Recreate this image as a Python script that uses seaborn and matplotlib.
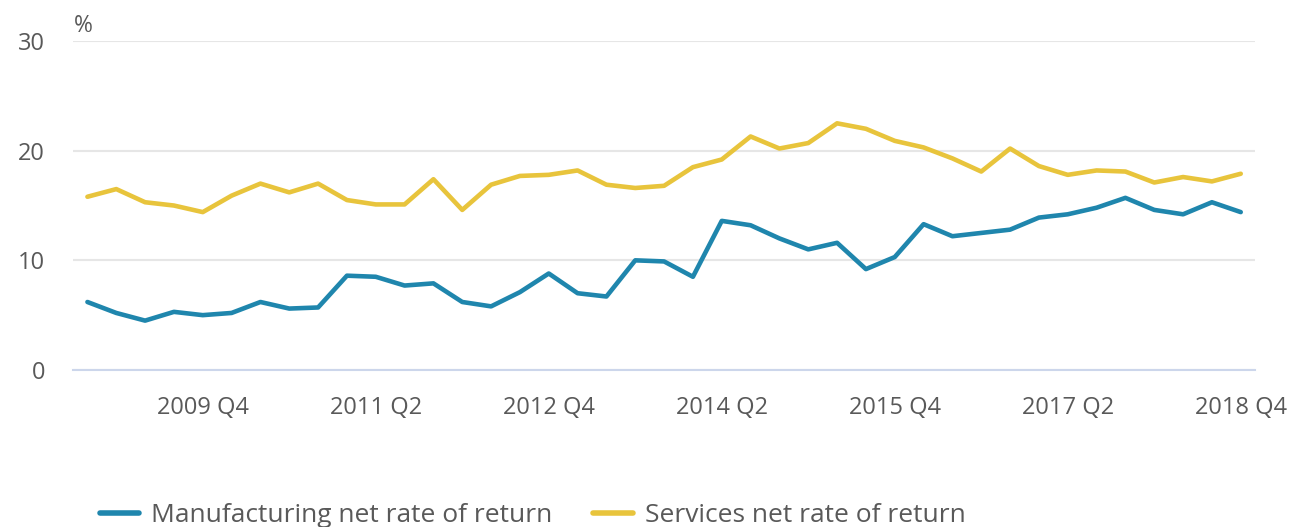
import numpy as np
import pandas as pd
import matplotlib
matplotlib.use("Agg")
import matplotlib.pyplot as plt
import seaborn as sns

# quarterly data, 2008 Q4 .. 2018 Q4
quarters = [f"{y} Q{q}" for y in range(2008, 2019) for q in range(1, 5)][3:]
manufacturing = [6.2, 5.2, 4.5, 5.3, 5.0, 5.2, 6.2, 5.6, 5.7, 8.6,
                 8.5, 7.7, 7.9, 6.2, 5.8, 7.1, 8.8, 7.0, 6.7, 10.0,
                 9.9, 8.5, 13.6, 13.2, 12.0, 11.0, 11.6, 9.2, 10.3, 13.3,
                 12.2, 12.5, 12.8, 13.9, 14.2, 14.8, 15.7, 14.6, 14.2, 15.3,
                 14.4]
services = [15.8, 16.5, 15.3, 15.0, 14.4, 15.9, 17.0, 16.2, 17.0, 15.5,
            15.1, 15.1, 17.4, 14.6, 16.9, 17.7, 17.8, 18.2, 16.9, 16.6,
            16.8, 18.5, 19.2, 21.3, 20.2, 20.7, 22.5, 22.0, 20.9, 20.3,
            19.3, 18.1, 20.2, 18.6, 17.8, 18.2, 18.1, 17.1, 17.6, 17.2,
            17.9]
tick_labels = ["2009 Q4", "2011 Q2", "2012 Q4", "2014 Q2", "2015 Q4", "2017 Q2", "2018 Q4"]

series_names = ["Manufacturing net rate of return", "Services net rate of return"]
colors = ["#1f86ad", "#e8c43c"]

df = pd.DataFrame({
    "idx": list(range(len(quarters))) * 2,
    "quarter": quarters * 2,
    "value": manufacturing + services,
    "series": [series_names[0]] * len(quarters) + [series_names[1]] * len(quarters),
})

sns.set_style("white")
plt.rcParams["font.family"] = ["Open Sans", "DejaVu Sans"]
text_color = "#595959"

fig = plt.figure(figsize=(12.9, 5.27), dpi=100)
ax = fig.add_axes([0.0566, 0.298, 0.9164, 0.624])

sns.lineplot(data=df, x="idx", y="value", hue="series", palette=colors,
             linewidth=3.3, ax=ax, legend=False)

ax.set_xlim(-0.5, len(quarters) - 0.5)
ax.set_ylim(0, 30)
ax.set_yticks([0, 10, 20, 30])
ax.yaxis.grid(True, color="#e6e6e6", linewidth=1.5)
ax.set_axisbelow(True)

tick_pos = [quarters.index(t) for t in tick_labels]
ax.set_xticks(tick_pos)
ax.set_xticklabels(tick_labels)

for s in ["top", "right", "left"]:
    ax.spines[s].set_visible(False)
ax.spines["bottom"].set_color("#ccd6eb")
ax.spines["bottom"].set_linewidth(1.5)

ax.tick_params(axis="x", length=14, width=1.2, color="#ccd6eb",
               labelsize=17, labelcolor=text_color, pad=5)
ax.tick_params(axis="y", length=0, labelsize=17, labelcolor=text_color, pad=20)
ax.set_xlabel("")
ax.set_ylabel("")

fig.text(0.057, 0.95, "%", fontsize=16.5, color=text_color, va="center", ha="left")

handles = [plt.Line2D([0], [0], color=c, linewidth=4) for c in colors]
fig.legend(handles, series_names, loc="center left", bbox_to_anchor=(0.059, 0.022),
           ncol=2, frameon=False, fontsize=19, labelcolor=text_color,
           handlelength=1.5, handletextpad=0.45, columnspacing=1.55)

fig.savefig("out.png", dpi=100)
